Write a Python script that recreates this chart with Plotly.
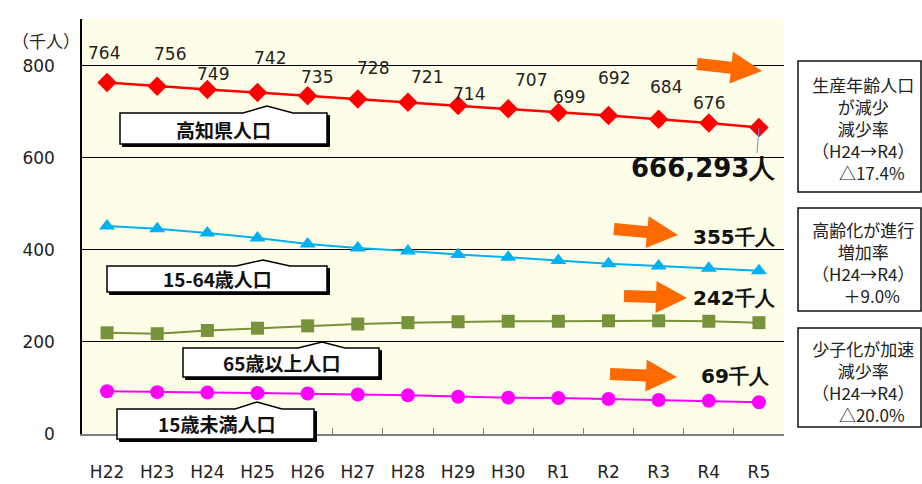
import plotly.graph_objects as go

# ---- data ----
years = ["H22", "H23", "H24", "H25", "H26", "H27", "H28", "H29", "H30", "R1", "R2", "R3", "R4", "R5"]
total = [764, 756, 749, 742, 735, 728, 721, 714, 707, 699, 692, 684, 676, 666]
total_r5_exact = 666293
working = [452, 446, 437, 426, 413, 404, 398, 390, 384, 377, 370, 365, 360, 355]
elderly = [220, 218, 225, 230, 235, 239, 242, 244, 245, 245, 246, 246, 245, 242]
children = [93, 91, 90, 89, 88, 86, 84, 81, 79, 78, 76, 74, 72, 69]

series_names = ["高知県人口", "15-64歳人口", "65歳以上人口", "15歳未満人口"]
box1_lines = ["生産年齢人口", "が減少", "減少率", "（H24→R4）", "　△17.4%"]
box2_lines = ["高齢化が進行", "増加率", "（H24→R4）", "　＋9.0%"]
box3_lines = ["少子化が加速", "減少率", "（H24→R4）", "　△20.0%"]

# ---- layout helpers (pixel -> paper) ----
W, H = 922, 484
L, R, T, B = 82, 138, 19, 50
PW, PH = W - L - R, H - T - B


def px(x):
    return (x - L) / PW


def py(y):
    return (H - B - y) / PH


CJK = "Noto Sans CJK JP"
NUM = "DejaVu Sans"

fig = go.Figure()

fig.add_trace(go.Scatter(x=years, y=total, mode="lines+markers", name=series_names[0],
                         line=dict(color="#FF0000", width=2.5),
                         marker=dict(symbol="diamond", size=15, color="#FF0000")))
fig.add_trace(go.Scatter(x=years, y=working, mode="lines+markers", name=series_names[1],
                         line=dict(color="#00B0F0", width=2),
                         marker=dict(symbol="triangle-up", size=14, color="#00B0F0")))
fig.add_trace(go.Scatter(x=years, y=elderly, mode="lines+markers", name=series_names[2],
                         line=dict(color="#77933C", width=2),
                         marker=dict(symbol="square", size=13, color="#77933C")))
fig.add_trace(go.Scatter(x=years, y=children, mode="lines+markers", name=series_names[3],
                         line=dict(color="#FF00FF", width=2),
                         marker=dict(symbol="circle", size=14, color="#FF00FF")))

annotations = []
shapes = []


def note(x, y, text, font, **kw):
    d = dict(x=x, y=y, text=text, showarrow=False, font=font,
             xanchor="center", yanchor="middle")
    d.update(kw)
    return d


# value labels for total population
label_dy = [29, 32, 15, 35, 19, 31, 25, 12, 29, 15, 38, 32, 20]
label_dx = [-3, 13, 6, 12, 9, 15, 19, 11, 23, 11, 5, 7, 0]
for i in range(len(total) - 1):
    annotations.append(note(years[i], total[i], str(total[i]),
                            dict(family=NUM, size=17, color="#222222"),
                            xref="x", yref="y", xshift=label_dx[i], yshift=label_dy[i]))

# unit label
annotations.append(note(px(46), py(40), "（千人）", dict(family=CJK, size=17, color="#222222"),
                        xref="paper", yref="paper"))

# big total label and leader line
annotations.append(note(px(703), py(168), "<b>{:,}人</b>".format(total_r5_exact),
                        dict(family=NUM, size=26, color="#111111"),
                        xref="paper", yref="paper"))
shapes.append(dict(type="line", xref="paper", yref="paper", x0=px(759), y0=py(128),
                   x1=px(757), y1=py(153), line=dict(color="#5B9BD5", width=1)))

# end labels
for val, (cx, cy) in zip([working[-1], elderly[-1], children[-1]],
                         [(734, 237), (734, 298), (735, 376)]):
    annotations.append(note(px(cx), py(cy), "<b>{}千人</b>".format(val),
                            dict(family=NUM, size=20, color="#111111"),
                            xref="paper", yref="paper"))


# orange arrows
def arrow(x0, y0, x1, y1, sw=12, hw=32, hl=31):
    import math
    dx, dy = x1 - x0, y1 - y0
    ln = math.hypot(dx, dy)
    ux, uy = dx / ln, dy / ln
    nx, ny = -uy, ux
    bx, by = x1 - ux * hl, y1 - uy * hl
    pts = [
        (x0 + nx * sw / 2, y0 + ny * sw / 2),
        (bx + nx * sw / 2, by + ny * sw / 2),
        (bx + nx * hw / 2, by + ny * hw / 2),
        (x1, y1),
        (bx - nx * hw / 2, by - ny * hw / 2),
        (bx - nx * sw / 2, by - ny * sw / 2),
        (x0 - nx * sw / 2, y0 - ny * sw / 2),
    ]
    path = "M " + " L ".join("{:.5f},{:.5f}".format(px(a), py(b)) for a, b in pts) + " Z"
    return dict(type="path", xref="paper", yref="paper", path=path,
                fillcolor="#FF6A00", line=dict(width=0))


shapes.append(arrow(697, 64, 762, 71))
shapes.append(arrow(614, 229, 678, 235))
shapes.append(arrow(624, 296, 687, 298))
shapes.append(arrow(610, 374, 677, 377))


# callout boxes with pointer bump and shadow
def callout(l, t, r, b, a, pk_x, pk_y, c, off=0):
    pts = [(l, t), (a, t), (pk_x, pk_y), (c, t), (r, t), (r, b), (l, b)]
    return "M " + " L ".join("{:.5f},{:.5f}".format(px(x + off), py(y + off)) for x, y in pts) + " Z"


boxes = [
    (120, 113, 327, 144, 243, 267, 106, 293, 223, 129),
    (107, 266, 327, 292, 236, 263, 260, 290, 217, 278),
    (183, 348, 379, 377, 298, 322, 342, 345, 281, 362),
    (117, 409, 314, 439, 235, 257, 402, 282, 216, 423),
]
for name, (l, t, r, b, a, pkx, pky, c, tx, ty) in zip(series_names, boxes):
    shapes.append(dict(type="path", xref="paper", yref="paper",
                       path=callout(l, t, r, b, a, pkx, pky, c, off=2.5),
                       fillcolor="#000000", line=dict(color="#000000", width=1)))
    shapes.append(dict(type="path", xref="paper", yref="paper",
                       path=callout(l, t, r, b, a, pkx, pky, c),
                       fillcolor="#FFFFFF", line=dict(color="#000000", width=1.5)))
    annotations.append(note(px(tx), py(ty), "<b>{}</b>".format(name),
                            dict(family=CJK, size=19, color="#111111"),
                            xref="paper", yref="paper"))

# right-hand info boxes
info = [
    ((798, 61, 921, 192), box1_lines, 128),
    ((798, 208, 921, 311), box2_lines, 262),
    ((798, 328, 921, 427), box3_lines, 381),
]
for (l, t, r, b), lines, cy in info:
    shapes.append(dict(type="rect", xref="paper", yref="paper", x0=px(l), y0=py(t),
                       x1=px(r), y1=py(b), fillcolor="#FFFFFF",
                       line=dict(color="#111111", width=1.5)))
    annotations.append(note(px(863), py(cy), "<br>".join(lines),
                            dict(family=CJK, size=17, color="#222222"),
                            xref="paper", yref="paper", align="center"))

fig.update_layout(
    width=W, height=H,
    margin=dict(l=L, r=R, t=T, b=B, pad=0, autoexpand=False),
    paper_bgcolor="#FFFFFF",
    plot_bgcolor="#FEFDE8",
    showlegend=False,
    annotations=annotations,
    shapes=shapes,
    xaxis=dict(type="category", range=[-0.5, len(years) - 0.5], showgrid=False,
               showline=True, linecolor="#7F7F7F", linewidth=1.5, automargin=False,
               ticks="inside", ticklen=6, tickcolor="#7F7F7F", tickson="boundaries",
               ticklabelstandoff=22,
               tickfont=dict(family=NUM, size=17, color="#222222"), fixedrange=True),
    yaxis=dict(range=[0, 902], tickvals=[0, 200, 400, 600, 800], showgrid=True,
               gridcolor="#000000", gridwidth=1, zeroline=False, automargin=False,
               showline=True, linecolor="#000000", linewidth=1.5, ticks="",
               ticklabelstandoff=22,
               tickfont=dict(family=NUM, size=17, color="#222222"), fixedrange=True),
)

fig.write_html("out.html", config={"displayModeBar": False},
               post_script="document.body.style.margin='0';")
